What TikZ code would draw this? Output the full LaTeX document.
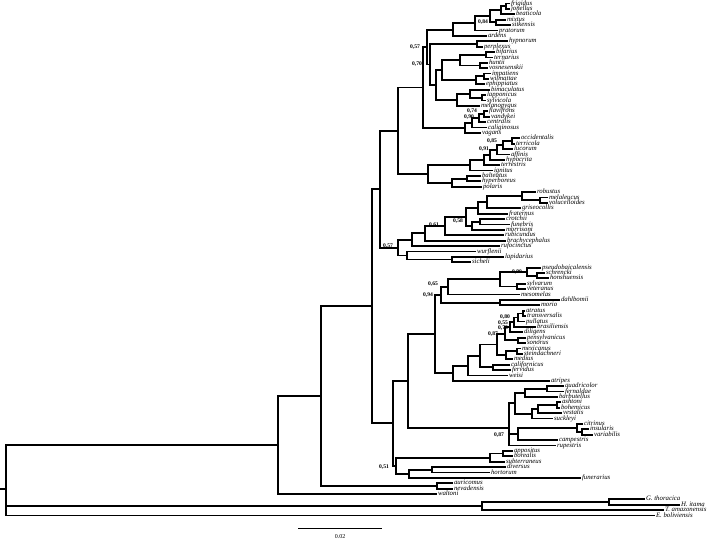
\documentclass[tikz,border=0pt]{standalone}
\usepackage{fontspec}
\setmainfont{Liberation Serif}
\usetikzlibrary{calc}

\tikzset{
  br/.style={line width=1.8pt, line join=miter},
  tip/.style={anchor=west, inner sep=1pt, outer sep=0pt, font=\fontsize{6.8}{7}\selectfont\itshape, text height=4.6pt, text depth=1.4pt},
  inner/.style={inner sep=0pt, outer sep=0pt, minimum size=0pt},
  bs/.style={font=\fontsize{5.6}{6}\selectfont\bfseries, inner sep=0pt},
}
% tip: name, x, row, text
\newcommand{\addtip}[4]{\node[tip] (#1) at (#2,{3.5+(#3-1)*5.39}) {#4};}
% clade: name, x, upper child, lower child
\newcommand{\mkclade}[4]{%
  \path let \p1=(#3.west), \p2=(#4.west) in node[inner] (#1) at (#2pt,{(\y1+\y2)/2}) {};
  \draw[br] (#3.west) -| (#1.center) |- (#4.west);}
\newcommand{\mkcladethree}[5]{%
  \path let \p1=(#3.west), \p2=(#4.west), \p3=(#5.west) in node[inner] (#1) at (#2pt,{(\y1+\y2+\y3)/3}) {};
  \draw[br] (#3.west) -| (#1.center) |- (#5.west);
  \draw[br] (#1.center) |- (#4.west);}

\begin{document}
\begin{tikzpicture}[x=1pt,y=-1pt]
  \useasboundingbox (0,0) rectangle (709,544);
  % tips
  \addtip{frigidus}{510}{1}{frigidus}
  \addtip{jonellus}{510}{2}{jonellus}
  \addtip{beaticola}{515}{3}{beaticola}
  \addtip{mixtus}{506}{4}{mixtus}
  \addtip{sitkensis}{511}{5}{sitkensis}
  \addtip{pratorum}{498}{6}{pratorum}
  \addtip{ardens}{487}{7}{ardens}
  \addtip{hypnorum}{508}{8}{hypnorum}
  \addtip{perplexus}{483}{9}{perplexus}
  \addtip{bifarius}{495}{10}{bifarius}
  \addtip{ternarius}{493}{11}{ternarius}
  \addtip{huntii}{488}{12}{huntii}
  \addtip{vosnesenskii}{488}{13}{vosnesenskii}
  \addtip{impatiens}{491}{14}{impatiens}
  \addtip{wilmattae}{489}{15}{wilmattae}
  \addtip{ephippiatus}{485}{16}{ephippiatus}
  \addtip{bimaculatus}{490}{17}{bimaculatus}
  \addtip{lapponicus}{486}{18}{lapponicus}
  \addtip{sylvicola}{486}{19}{sylvicola}
  \addtip{melanopygus}{480}{20}{melanopygus}
  \addtip{flavifrons}{488}{21}{flavifrons}
  \addtip{vandykei}{490}{22}{vandykei}
  \addtip{centralis}{486}{23}{centralis}
  \addtip{caliginosus}{487}{24}{caliginosus}
  \addtip{vagans}{481}{25}{vagans}
  \addtip{occidentalis}{520}{26}{occidentalis}
  \addtip{terricola}{515}{27}{terricola}
  \addtip{lucorum}{513}{28}{lucorum}
  \addtip{affinis}{510}{29}{affinis}
  \addtip{hypocrita}{505}{30}{hypocrita}
  \addtip{terrestris}{500}{31}{terrestris}
  \addtip{ignitus}{493}{32}{ignitus}
  \addtip{balteatus}{481}{33}{balteatus}
  \addtip{hyperboreus}{481}{34}{hyperboreus}
  \addtip{polaris}{482}{35}{polaris}
  \addtip{robustus}{536}{36}{robustus}
  \addtip{melaleucus}{548}{37}{melaleucus}
  \addtip{volucelloides}{548}{38}{volucelloides}
  \addtip{griseocollis}{521}{39}{griseocollis}
  \addtip{fraternus}{508}{40}{fraternus}
  \addtip{crotchii}{505}{41}{crotchii}
  \addtip{funebris}{510}{42}{funebris}
  \addtip{morrisoni}{505}{43}{morrisoni}
  \addtip{rubicundus}{504}{44}{rubicundus}
  \addtip{brachycephalus}{506}{45}{brachycephalus}
  \addtip{rufocinctus}{500}{46}{rufocinctus}
  \addtip{wurflenii}{476}{47}{wurflenii}
  \addtip{lapidarius}{504}{48}{lapidarius}
  \addtip{sicheli}{471}{49}{sicheli}
  \addtip{pseudobaicalensis}{541}{50}{pseudobaicalensis}
  \addtip{schrencki}{545}{51}{schrencki}
  \addtip{honshuensis}{549}{52}{honshuensis}
  \addtip{sylvarum}{526}{53}{sylvarum}
  \addtip{veteranus}{526}{54}{veteranus}
  \addtip{mesomelas}{520}{55}{mesomelas}
  \addtip{dahlbomii}{560}{56}{dahlbomii}
  \addtip{morio}{540}{57}{morio}
  \addtip{atratus}{525}{58}{atratus}
  \addtip{transversalis}{526}{59}{transversalis}
  \addtip{pullatus}{525}{60}{pullatus}
  \addtip{brasiliensis}{536}{61}{brasiliensis}
  \addtip{diligens}{523}{62}{diligens}
  \addtip{pensylvanicus}{526}{63}{pensylvanicus}
  \addtip{sonorus}{526}{64}{sonorus}
  \addtip{mexicanus}{521}{65}{mexicanus}
  \addtip{steindachneri}{523}{66}{steindachneri}
  \addtip{medius}{513}{67}{medius}
  \addtip{californicus}{510}{68}{californicus}
  \addtip{fervidus}{511}{69}{fervidus}
  \addtip{weisi}{508}{70}{weisi}
  \addtip{atripes}{550}{71}{atripes}
  \addtip{quadricolor}{564}{72}{quadricolor}
  \addtip{fernaldae}{564}{73}{fernaldae}
  \addtip{barbutellus}{558}{74}{barbutellus}
  \addtip{ashtoni}{561}{75}{ashtoni}
  \addtip{bohemicus}{560}{76}{bohemicus}
  \addtip{vestalis}{562}{77}{vestalis}
  \addtip{suckleyi}{553}{78}{suckleyi}
  \addtip{citrinus}{583}{79}{citrinus}
  \addtip{insularis}{589}{80}{insularis}
  \addtip{variabilis}{593}{81}{variabilis}
  \addtip{campestris}{558}{82}{campestris}
  \addtip{rupestris}{556}{83}{rupestris}
  \addtip{appositus}{513}{84}{appositus}
  \addtip{borealis}{513}{85}{borealis}
  \addtip{subterraneus}{505}{86}{subterraneus}
  \addtip{diversus}{506}{87}{diversus}
  \addtip{hortorum}{490}{88}{hortorum}
  \addtip{funerarius}{581}{89}{funerarius}
  \addtip{auricomus}{453}{90}{auricomus}
  \addtip{nevadensis}{453}{91}{nevadensis}
  \addtip{waltoni}{437}{92}{waltoni}
  \addtip{gthoracica}{645}{93}{G. thoracica}
  \addtip{hitama}{680}{94}{H. itama}
  \addtip{tamazonensis}{664}{95}{T. amazonensis}
  \addtip{eboliviensis}{655}{96}{E. boliviensis}
  % Pyrobombus
  \mkclade{pa}{506}{frigidus}{jonellus}
  \mkclade{pb}{501}{pa}{beaticola}
  \mkclade{pc}{496}{mixtus}{sitkensis}
  \mkclade{pd}{490}{pb}{pc}
  \mkclade{pe}{475}{pd}{pratorum}
  \mkclade{pf}{453}{pe}{ardens}
  \mkclade{pg}{477}{hypnorum}{perplexus}
  \mkclade{ph}{486}{bifarius}{ternarius}
  \mkclade{pi}{480}{huntii}{vosnesenskii}
  \mkclade{pj}{460}{ph}{pi}
  \mkclade{pk}{484}{impatiens}{wilmattae}
  \mkclade{pl}{476}{pk}{ephippiatus}
  \mkclade{pm}{442}{pj}{pl}
  \mkclade{pn}{482}{lapponicus}{sylvicola}
  \mkclade{po}{470}{bimaculatus}{pn}
  \mkclade{pp}{457}{po}{melanopygus}
  \mkclade{pq}{436}{pm}{pp}
  \mkclade{pr}{430}{pg}{pq}
  \mkclade{ps}{427}{pf}{pr}
  \mkclade{fa}{484}{flavifrons}{vandykei}
  \mkclade{fb}{479}{fa}{centralis}
  \mkclade{fc}{472}{fb}{caliginosus}
  \mkclade{fd}{465}{fc}{vagans}
  \mkclade{pt}{423}{ps}{fd}
  % Bombus s. str. and Alpinobombus
  \mkclade{ba}{512}{occidentalis}{terricola}
  \mkclade{bb}{503}{ba}{lucorum}
  \mkclade{bc}{497}{bb}{affinis}
  \mkclade{bd}{490}{bc}{hypocrita}
  \mkclade{be}{484}{bd}{terrestris}
  \mkclade{bf}{470}{be}{ignitus}
  \mkclade{aa}{467}{balteatus}{hyperboreus}
  \mkclade{ab}{452}{aa}{polaris}
  \mkclade{bg}{428}{bf}{ab}
  \mkclade{ua}{398}{pt}{bg}
  % Cullumanobombus, Melanobombus
  \mkclade{ca}{540}{melaleucus}{volucelloides}
  \mkclade{cb}{522}{robustus}{ca}
  \mkclade{cc}{487}{cb}{griseocollis}
  \mkclade{cd}{478}{cc}{fraternus}
  \mkclade{ce}{480}{crotchii}{funebris}
  \mkclade{cf}{472}{ce}{morrisoni}
  \mkclade{cg}{466}{cd}{cf}
  \mkclade{ch}{445}{cg}{rubicundus}
  \mkclade{ci}{425}{ch}{brachycephalus}
  \mkclade{cj}{412}{ci}{rufocinctus}
  \mkclade{la}{452}{lapidarius}{sicheli}
  \mkclade{lb}{407}{wurflenii}{la}
  \mkclade{ub}{398}{cj}{lb}
  \mkclade{uc}{380}{ua}{ub}
  % Thoracobombus
  \mkclade{ta}{537}{schrencki}{honshuensis}
  \mkclade{tb}{527}{pseudobaicalensis}{ta}
  \mkclade{tc}{517}{sylvarum}{veteranus}
  \mkclade{td}{500}{tb}{tc}
  \mkclade{te}{448}{td}{mesomelas}
  \mkclade{tf}{500}{dahlbomii}{morio}
  \mkclade{tg}{441}{te}{tf}
  \mkclade{va}{523}{atratus}{transversalis}
  \mkclade{vb}{518}{va}{pullatus}
  \mkclade{vc}{514}{vb}{brasiliensis}
  \mkclade{vd}{510}{vc}{diligens}
  \mkclade{ve}{518}{pensylvanicus}{sonorus}
  \mkclade{vf}{505}{vd}{ve}
  \mkclade{vg}{517}{mexicanus}{steindachneri}
  \mkclade{vh}{506}{vg}{medius}
  \mkclade{vi}{497}{vf}{vh}
  \mkclade{vj}{493}{californicus}{fervidus}
  \mkclade{vk}{480}{vi}{vj}
  \mkclade{vl}{468}{vk}{weisi}
  \mkclade{vm}{453}{vl}{atripes}
  \mkclade{th}{435}{tg}{vm}
  % Psithyrus
  \mkclade{qa}{547}{quadricolor}{fernaldae}
  \mkclade{qb}{525}{qa}{barbutellus}
  \mkclade{qc}{557}{ashtoni}{bohemicus}
  \mkclade{qd}{538}{qc}{vestalis}
  \mkclade{qe}{532}{qd}{suckleyi}
  \mkclade{qf}{515}{qb}{qe}
  \mkclade{qg}{582}{insularis}{variabilis}
  \mkclade{qh}{577}{citrinus}{qg}
  \mkclade{qi}{518}{qh}{campestris}
  \mkcladethree{qj}{509}{qf}{qi}{rupestris}
  \mkclade{tj}{408}{th}{qj}
  % Subterraneobombus, Megabombus
  \mkclade{sa}{503}{appositus}{borealis}
  \mkclade{sb}{490}{sa}{subterraneus}
  \mkclade{ma}{432}{diversus}{hortorum}
  \mkclade{mb}{409}{ma}{funerarius}
  \mkclade{sc}{396}{sb}{mb}
  \mkclade{tk}{393}{tj}{sc}
  \mkclade{ud}{372}{uc}{tk}
  \mkclade{ka}{437}{auricomus}{nevadensis}
  \mkclade{ue}{321}{ud}{ka}
  \mkclade{ing}{278}{ue}{waltoni}
  % outgroups and root
  \mkclade{oa}{609}{gthoracica}{hitama}
  \mkclade{ob}{482}{oa}{tamazonensis}
  \mkcladethree{root}{6}{ing}{ob}{eboliviensis}
  \coordinate (base) at ([xshift=-6pt]root.center);
  \draw[br] (root.center) -- (base);
  % support values
  \node[bs] (s1) at (483,22) {0,84};
  \node[bs] (s2) at (415,47) {0,57};
  \node[bs] (s3) at (417,64) {0,70};
  \node[bs] (s4) at (472,111) {0,74};
  \node[bs] (s5) at (469,117) {0,90};
  \node[bs] (s6) at (492,141) {0,85};
  \node[bs] (s7) at (484,149) {0,91};
  \node[bs] (s8) at (458,221) {0,58};
  \node[bs] (s9) at (434,225) {0,61};
  \node[bs] (s10) at (388,246) {0,57};
  \node[bs] (s11) at (517,272) {0,90};
  \node[bs] (s12) at (433,284) {0,65};
  \node[bs] (s13) at (428,295) {0,94};
  \node[bs] (s14) at (505,317) {0,80};
  \node[bs] (s15) at (503,323) {0,55};
  \node[bs] (s16) at (503,328) {0,73};
  \node[bs] (s17) at (493,334) {0,87};
  \node[bs] (s18) at (499,435) {0,87};
  \node[bs] (s19) at (384,467) {0,51};
  % scale bar
  \coordinate (sbl) at (298,528);
  \coordinate (sbr) at (382,528);
  \draw[line width=1pt] (sbl) -- (sbr);
  \node[font=\fontsize{6}{7}\selectfont, below=3pt] (sbt) at ($(sbl)!.5!(sbr)$) {0.02};
\end{tikzpicture}
\end{document}
